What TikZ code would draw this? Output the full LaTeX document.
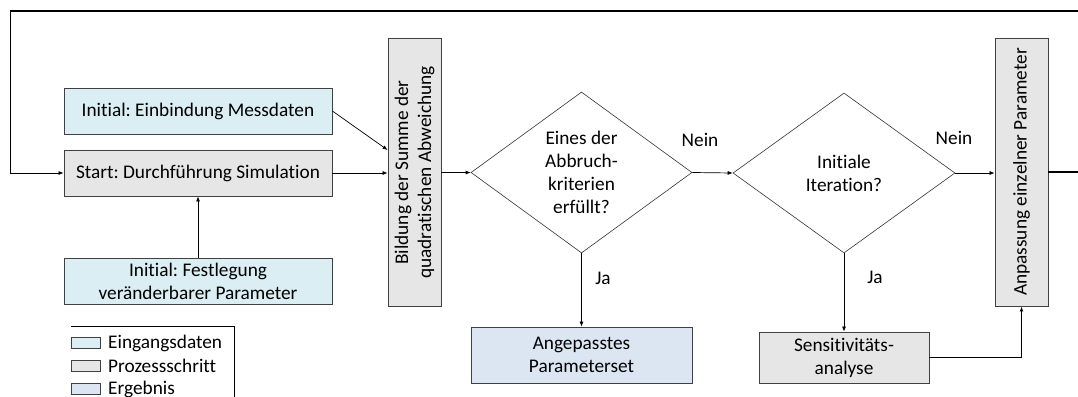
\documentclass[tikz,border=0pt]{standalone}
\usepackage{fontspec}
\setmainfont{Carlito}[Ligatures={NoCommon}]
\usetikzlibrary{shapes.geometric,arrows.meta}
\definecolor{eingang}{HTML}{DAEEF3}
\definecolor{prozess}{HTML}{E7E6E6}
\definecolor{ergebnis}{HTML}{DCE6F2}
\frenchspacing
\begin{document}
\begin{tikzpicture}[x=1pt,y=-1pt,
		font=\fontsize{19.3}{23}\selectfont,
		box/.style={draw=black!75,line width=0.8pt,minimum width=268pt,minimum height=46pt,inner sep=0pt,align=center},
		vbox/.style={box,fill=prozess,rotate=90,minimum width=268pt,minimum height=53pt},
		raute/.style={draw=black!80,line width=0.6pt,diamond,inner sep=0pt,align=center},
		pfeil/.style={-{Latex[length=5pt,width=4pt]},line width=0.7pt},
		dick/.style={line width=1.8pt}]
		\useasboundingbox (0,0) rectangle (1078,396);

		% Eingangsdaten und Simulation
		\node[box,fill=eingang] (mess) at (198,111) {Initial: Einbindung Messdaten};
		\node[box,fill=prozess] (sim) at (198,173) {Start: Durchführung Simulation};
		\node[box,fill=eingang] (fest) at (198,281) {Initial: Festlegung\\veränderbarer Parameter};

		% Prozessschritte
		\node[vbox] (bild) at (414.5,172.5) {Bildung der Summe der\\quadratischen Abweichung};
		\node[raute,minimum width=221pt,minimum height=161pt] (abbr) at (581.5,172.5) {Eines der\\Abbruch-\\kriterien\\erfüllt?};
		\node[raute,minimum width=222pt,minimum height=160pt] (iter) at (844,173) {Initiale\\Iteration?};
		\node[box,fill=ergebnis,minimum width=221pt,minimum height=56pt] (erg) at (581.5,355) {Angepasstes\\Parameterset};
		\node[box,fill=prozess,minimum width=170pt,minimum height=51pt] (sens) at (844,357.5) {Sensitivitäts-\\analyse};
		\node[vbox] (anp) at (1021.5,172) {Anpassung einzelner Parameter};

		% Verbindungen
		\draw[pfeil] (mess.east) -- (bild.north |- 0,150);
		\draw[pfeil] (sim) -- (sim -| bild.north);
		\draw[pfeil] (fest) -- (sim);
		\draw[pfeil] (bild.south) -- (abbr.west);
		\draw[pfeil] (abbr.east) -- (iter.west);
		\draw[pfeil] (abbr.south) -- (erg.north);
		\draw[pfeil] (iter.east) -- (iter.east -| anp.north);
		\draw[pfeil] (iter.south) -- (sens.north);
		\draw[dick,-{Latex[length=5pt,width=4pt]}] (sens.east) -| (anp.west);

		% Rueckfuehrung
		\coordinate (ecke) at (10,11);
		\draw[dick] (anp.south) -- (1110,172) |- (ecke);
		\draw[pfeil] (ecke) |- (sim.west);

		% Beschriftungen
		\node at (700,140) {Nein};
		\node at (954,138) {Nein};
		\node at (603,278) {Ja};
		\node at (875,277) {Ja};

		% Legende
		\draw[line width=0.7pt] (71,326) -- (234,326) -- (234,400);
		\foreach \y/\farbe/\lab in {343/eingang/Eingangsdaten,366/prozess/Prozessschritt,389/ergebnis/Ergebnis} {
			\draw[draw=black!75,line width=0.7pt,fill=\farbe] (71,\y-5.5) rectangle (100,\y+5.5);
			\node[anchor=west,inner sep=0pt] at (108,\y) {\lab};
		}
\end{tikzpicture}
\end{document}
